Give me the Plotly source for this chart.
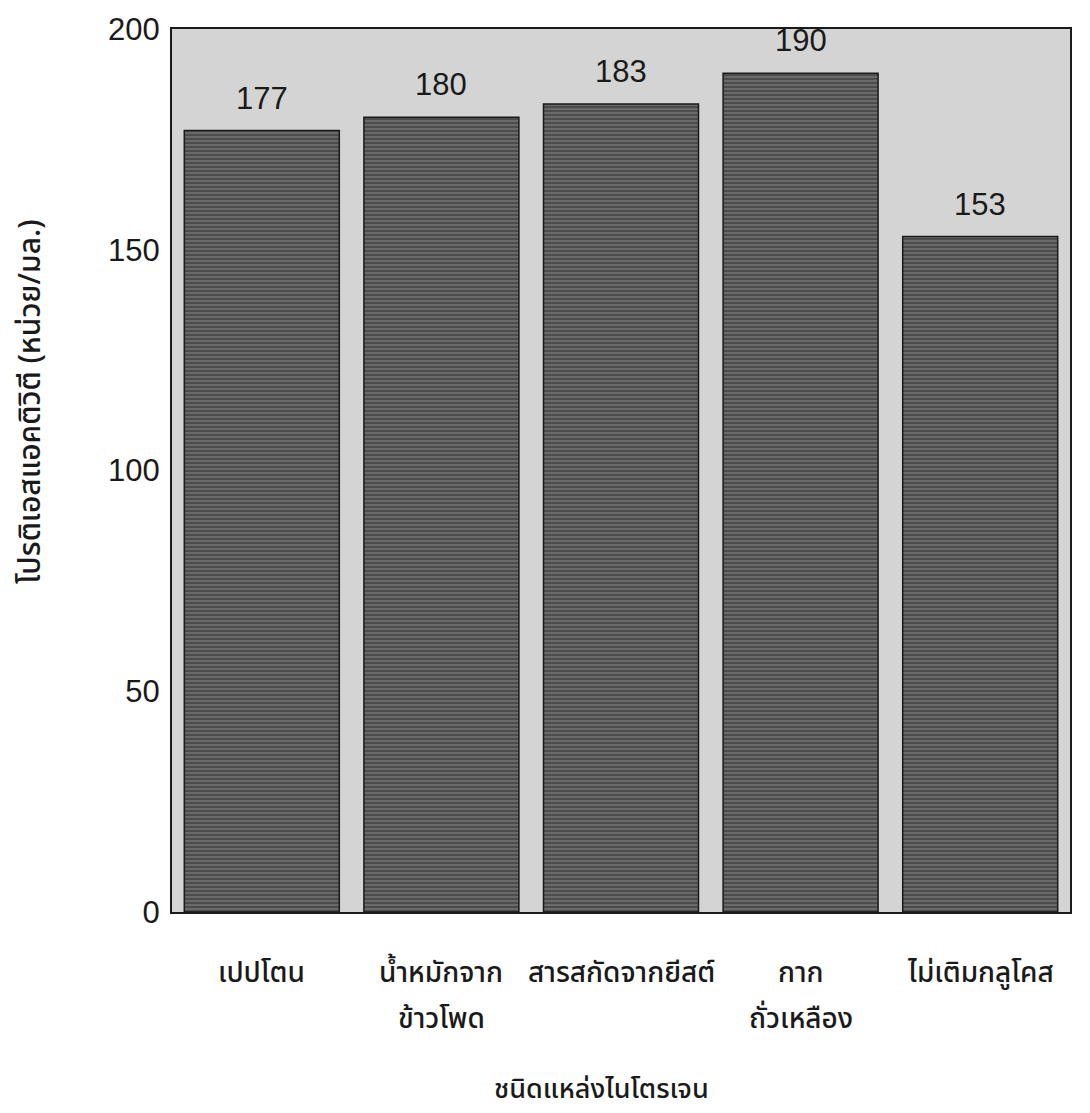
import plotly.graph_objects as go

categories = ["เปปโตน", "น้ำหมักจาก<br>ข้าวโพด", "สารสกัดจากยีสต์", "กาก<br>ถั่วเหลือง", "ไม่เติมกลูโคส"]
activity = [177, 180, 183, 190, 153]
y_ticks = [0, 50, 100, 150, 200]
y_title = "โปรติเอสแอคติวิตี (หน่วย/มล.)"
x_title = "ชนิดแหล่งไนโตรเจน"

xpos = list(range(len(categories)))
num_font = "Liberation Sans, Arial, sans-serif"
thai_font = "Noto Sans Thai, Loma, Garuda, Tlwg Typo, sans-serif"

fig = go.Figure()
fig.add_trace(go.Bar(
    x=xpos, y=activity,
    marker=dict(
        color="#555555",
        line=dict(color="#1a1a1a", width=1.5),
        pattern=dict(shape="-", fgcolor="#2e2e2e", bgcolor="#6a6a6a", size=4, solidity=0.5),
    ),
    showlegend=False,
    hoverinfo="skip",
))

annotations = []
for xi, v in zip(xpos, activity):
    annotations.append(dict(x=xi, y=v, xref="x", yref="y", text=str(v), showarrow=False,
                            yanchor="bottom", yshift=13,
                            font=dict(family=num_font, size=31, color="#1a1a1a")))

for xi, lab in zip(xpos, categories):
    lines = lab.split("<br>")
    for k, line in enumerate(lines):
        annotations.append(dict(x=xi, y=0, xref="x", yref="paper", text=line, showarrow=False,
                                yanchor="middle", yshift=-61 - 46 * k,
                                font=dict(family=thai_font, size=28, color="#1a1a1a", weight=500)))

annotations.append(dict(x=0, y=0, xref="paper", yref="paper", text=x_title, showarrow=False,
                        yanchor="middle", xanchor="center",
                        xshift=601 - 172, yshift=-(1089 - 912),
                        font=dict(family=thai_font, size=27, color="#1a1a1a", weight=500)))
annotations.append(dict(x=0, y=0, xref="paper", yref="paper", text=y_title, showarrow=False,
                        textangle=-90, xanchor="center", yanchor="middle",
                        xshift=31 - 172, yshift=912 - 402,
                        font=dict(family=thai_font, size=30, color="#1a1a1a", weight=500)))

fig.update_layout(
    width=1090, height=1113,
    margin=dict(l=172, r=20, t=23, b=201),
    paper_bgcolor="white",
    plot_bgcolor="#d4d4d4",
    bargap=0.137,
    annotations=annotations,
    xaxis=dict(range=[-0.5, 4.5], showticklabels=False, showgrid=False, zeroline=False,
               showline=True, linecolor="#1a1a1a", linewidth=2, mirror=True, ticks=""),
    yaxis=dict(range=[0, 200], tickvals=y_ticks, showgrid=False, zeroline=False,
               showline=True, linecolor="#1a1a1a", linewidth=2, mirror=True, ticks="",
               ticklabelstandoff=4,
               tickfont=dict(family=num_font, size=31, color="#1a1a1a")),
)

fig.write_html("out.html")
